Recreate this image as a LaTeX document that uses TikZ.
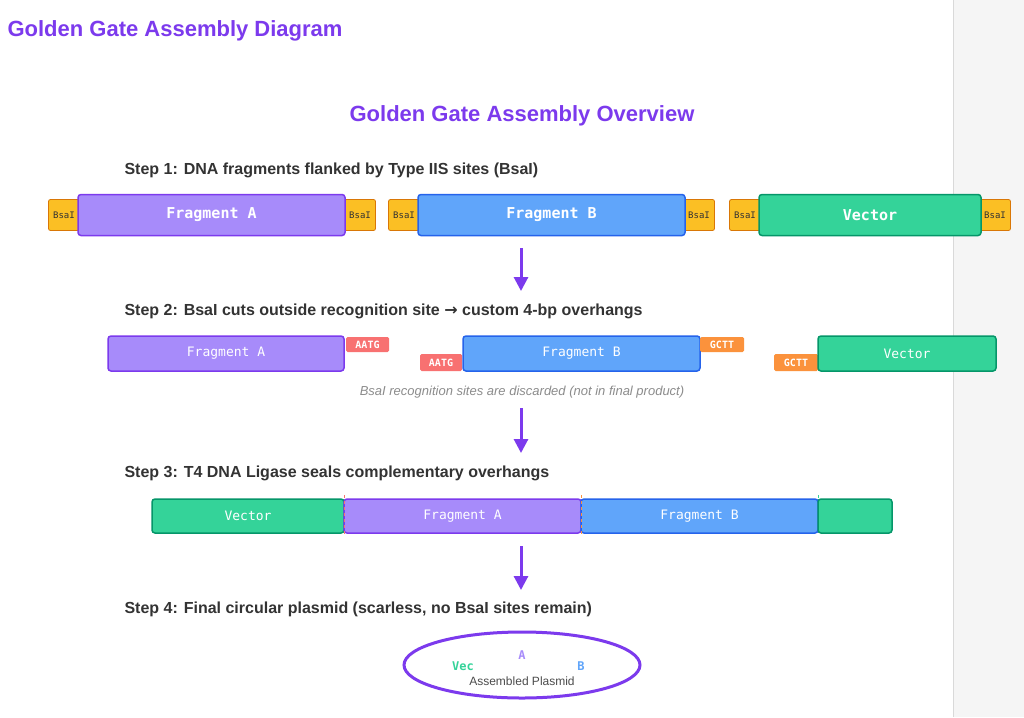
\documentclass[tikz,border=0pt]{standalone}
\usepackage{fontspec}
\setmainfont{Liberation Sans}
\newfontfamily\monof{DejaVu Sans Mono}
\usetikzlibrary{arrows.meta,shapes.geometric}
\definecolor{pur}{HTML}{7C3AED}\definecolor{purf}{HTML}{A78BFA}
\definecolor{blu}{HTML}{2563EB}\definecolor{bluf}{HTML}{60A5FA}
\definecolor{grn}{HTML}{059669}\definecolor{grnf}{HTML}{34D399}
\definecolor{gold}{HTML}{D97706}\definecolor{goldf}{HTML}{FBBF24}
\definecolor{redf}{HTML}{F87171}\definecolor{orf}{HTML}{FB923C}
\definecolor{txt}{HTML}{333333}
\begin{document}
\begin{tikzpicture}[x=1pt,y=-1pt,
 frag/.style={draw=#1,line width=1.5pt,rounded corners=3pt,text=white,font=\monof\bfseries\fontsize{15}{15}\selectfont},
 frag2/.style={draw=#1,line width=1.5pt,rounded corners=3pt,text=white,font=\monof\fontsize{13}{13}\selectfont},
 site/.style={fill=goldf,draw=gold,line width=0.8pt,rounded corners=2pt,font=\monof\fontsize{9}{9}\selectfont,text=black!80},
 oh/.style={fill=#1,rounded corners=1.5pt,text=white,font=\monof\bfseries\fontsize{10}{10}\selectfont},
 steplbl/.style={anchor=west,font=\bfseries\fontsize{16}{16}\selectfont,text=txt},
 arr/.style={-{Triangle[length=14pt,width=14pt]},line width=3pt,draw=pur}]
\useasboundingbox (0,0) rectangle (1024,717);
\fill[white] (0,0) rectangle (1024,717);
\fill[black!4] (953,0) rectangle (1024,717);
\draw[black!15] (953,0) -- (953,717);
\node[anchor=west,text=pur,font=\bfseries\fontsize{22}{22}\selectfont] (t1) at (4,31) {Golden Gate Assembly Diagram};
\node[text=pur,font=\bfseries\fontsize{22}{22}\selectfont] (t2) at (522,116) {Golden Gate Assembly Overview};
% step 1
\node[steplbl] (s1) at (121,170) {Step 1: DNA fragments flanked by Type IIS sites (BsaI)};
\node[site,minimum width=31pt,minimum height=31pt] (a1) at (64,215) {BsaI};
\node[site,minimum width=31pt,minimum height=31pt] (a2) at (360,215) {BsaI};
\node[site,minimum width=31pt,minimum height=31pt] (b1) at (404,215) {BsaI};
\node[site,minimum width=31pt,minimum height=31pt] (b2) at (699,215) {BsaI};
\node[site,minimum width=31pt,minimum height=31pt] (c1) at (745,215) {BsaI};
\node[site,minimum width=31pt,minimum height=31pt] (c2) at (995,215) {BsaI};
\node[frag=pur,fill=purf,minimum width=267pt,minimum height=41pt] (fa) at (211.5,215) {Fragment A};
\node[frag=blu,fill=bluf,minimum width=267pt,minimum height=41pt] (fb) at (551.5,215) {Fragment B};
\node[frag=grn,fill=grnf,minimum width=222pt,minimum height=41pt] (fv) at (870,215) {Vector};
\coordinate (p1) at (521,248);\coordinate (q1) at (521,291);
\draw[arr] (p1) -- (q1);
% step 2
\node[steplbl] (s2) at (121,311) {Step 2: BsaI cuts outside recognition site {\fontspec{DejaVu Sans}→} custom 4-bp overhangs};
\node[frag2=pur,fill=purf,minimum width=236pt,minimum height=35pt] (ga) at (226,353.5) {Fragment A};
\node[oh=redf,minimum width=43pt,minimum height=15pt] (o1) at (367.5,344.5) {AATG};
\node[oh=redf,minimum width=42pt,minimum height=17pt] (o2) at (441,362.5) {AATG};
\node[frag2=blu,fill=bluf,minimum width=237pt,minimum height=35pt] (gb) at (581.5,353.5) {Fragment B};
\node[oh=orf,minimum width=44pt,minimum height=15pt] (o3) at (722,344.5) {GCTT};
\node[oh=orf,minimum width=44pt,minimum height=17pt] (o4) at (796,362.5) {GCTT};
\node[frag2=grn,fill=grnf,minimum width=178pt,minimum height=35pt] (gv) at (907,353.5) {Vector};
\node[text=black!45,font=\itshape\fontsize{13}{13}\selectfont] (note) at (522,392) {BsaI recognition sites are discarded (not in final product)};
\coordinate (p2) at (521,408);\coordinate (q2) at (521,453);
\draw[arr] (p2) -- (q2);
% step 3
\node[steplbl] (s3) at (121,473) {Step 3: T4 DNA Ligase seals complementary overhangs};
\node[frag2=grn,fill=grnf,minimum width=192pt,minimum height=34pt] (hv) at (248,516) {Vector};
\node[frag2=pur,fill=purf,minimum width=237pt,minimum height=34pt] (ha) at (462.5,516) {Fragment A};
\node[frag2=blu,fill=bluf,minimum width=237pt,minimum height=34pt] (hb) at (699.5,516) {Fragment B};
\node[frag2=grn,fill=grnf,minimum width=74pt,minimum height=34pt] (hv2) at (855,516) {};
\draw[redf,dashed,line width=1pt] (344,495) -- (344,536);
\draw[orf,dashed,line width=1pt] (581,495) -- (581,536);
\draw[grnf,dashed,line width=1pt] (818,495) -- (818,499);
\coordinate (p3) at (521,546);\coordinate (q3) at (521,590);
\draw[arr] (p3) -- (q3);
% step 4
\node[steplbl] (s4) at (121,609) {Step 4: Final circular plasmid (scarless, no BsaI sites remain)};
\node[draw=pur,line width=3pt,ellipse,minimum width=236pt,minimum height=66pt] (pl) at (522,665) {};
\node[text=grnf,font=\monof\bfseries\fontsize{12}{12}\selectfont] (lv) at (463,666) {Vec};
\node[text=purf,font=\monof\bfseries\fontsize{12}{12}\selectfont] (la) at (522,655) {A};
\node[text=bluf,font=\monof\bfseries\fontsize{12}{12}\selectfont] (lb) at (581,666) {B};
\node[text=black!70,font=\fontsize{12}{12}\selectfont] (lp) at (522,681) {Assembled Plasmid};
\end{tikzpicture}
\end{document}
